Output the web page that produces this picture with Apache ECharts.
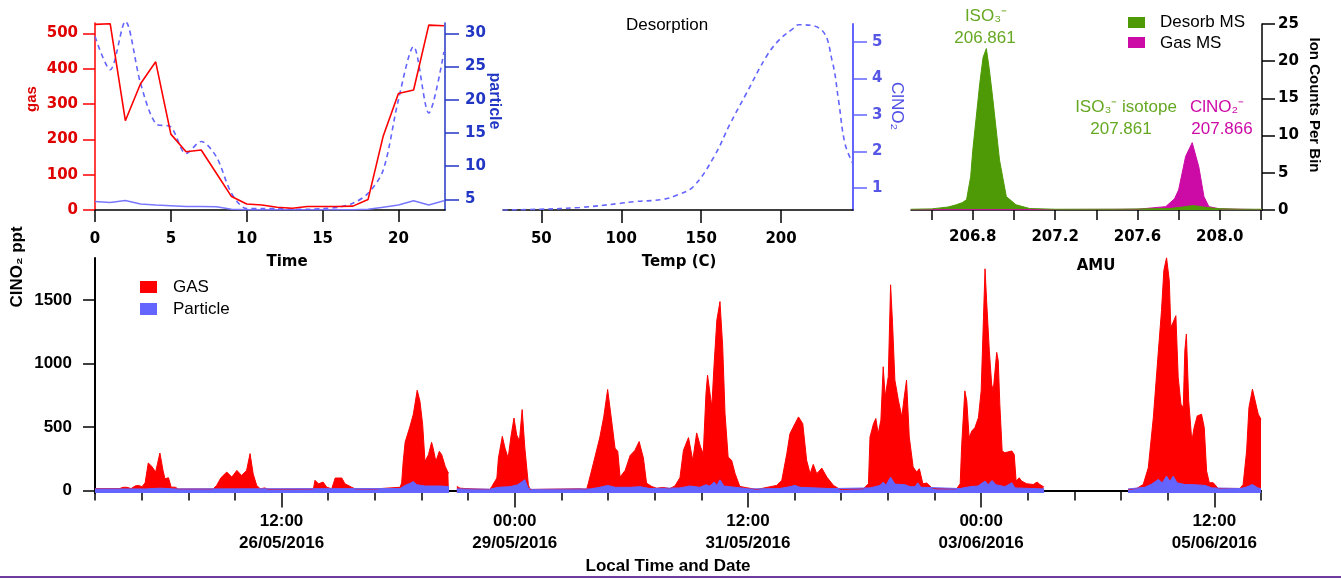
<!DOCTYPE html>
<html><head><meta charset="utf-8">
<script src="https://cdn.jsdelivr.net/npm/echarts@6/dist/echarts.min.js"></script>
<style>html,body{margin:0;padding:0;background:#fff}#c{width:1341px;height:579px}</style>
</head><body><div id="c"></div>
<script>
// ---------- Panel 1: diurnal cycle ----------
const diurnalHours = [0,1,2,3,4,5,6,7,8,9,10,11,12,13,14,15,16,17,18,19,20,21,22,23];
const diurnalGas = [526,528,253,358,420,215,165,170,104,38,17,14,8,5,10,10,10,11,30,210,330,340,524,522];
const diurnalParticleRight = [29.5,24.5,31.8,22.5,16.4,15.9,11.9,13.7,11.4,5.9,3.6,3.6,3.6,3.5,3.5,3.6,3.8,4.4,5.9,9.4,20,28,18,27.2];
const diurnalParticleLeft = [24,21,27,17,14,12,10,10,9,2,1,1,0.5,0.5,0.5,0.5,0.5,1,2,8,14,26,14,26];
const diurnalTicks = [0,5,10,15,20];
const particleTicks = [5,10,15,20,25,30];

// ---------- Panel 2: desorption ----------
const desorbTemp = [26,49,74,99,108,126,135,145,158,168,178,191,199,208,211,225,232,236,240,245];
const desorbClNO2 = [0.39,0.41,0.46,0.57,0.62,0.68,0.8,1.03,1.85,2.75,3.57,4.62,5.07,5.39,5.48,5.35,4.48,3.39,2.21,1.66];
const tempTicks = [50,100,150,200];
const clno2Ticks = [1,2,3,4,5];

// ---------- Panel 3: mass spectra ----------
const desorbAmu = [206.5,206.6,206.68,206.72,206.75,206.77,206.79,206.80,206.834,206.85,206.866,206.88,206.898,206.93,206.963,207.01,207.076,207.2,207.5,207.76,207.82,207.87,207.92,207.98,208.1,208.205];
const desorbCounts = [0.1,0.15,0.4,0.7,1.0,1.4,4.5,8,17,20.5,21.7,19,14.8,6.7,1.8,0.7,0.2,0.1,0.1,0.2,0.4,0.6,0.4,0.2,0.1,0.1];
const gasAmu = [206.5,207.0,207.6,207.737,207.78,207.80,207.834,207.866,207.898,207.923,207.947,208.0,208.205];
const gasCounts = [0.05,0.05,0.1,0.45,1.5,2.7,7.2,9.05,5.8,1.8,0.45,0.15,0.05];
const amuTicks = [206.6,206.8,207.0,207.2,207.4,207.6,207.8,208.0,208.2];
const amuLabels = [206.8,207.2,207.6,208.0];
const countTicks = [0,5,10,15,20,25];

// ---------- Bottom: time series (hours since 24/05/2016 12:00) ----------
const seriesStartUTC = [2016,4,24,12];
const gasHours = [
 0,6.4,7.2,8.2,9.3,10.3,11.1,12.1,12.9,13.7,
 14.6,15.6,16.7,17.5,18.0,18.9,19.6,20.6,21.4,30.4,
 31.3,32.4,33.9,35.2,36.5,37.7,39.0,39.9,40.7,41.6,
 42.5,43.7,44.5,56.2,56.6,57.5,58.7,59.6,60.9,61.8,
 63.5,64.3,66.0,66.9,72.0,75.9,78.5,78.9,79.3,79.8,
 81.0,81.9,82.9,83.6,84.3,84.9,85.8,86.6,87.0,87.7,
 88.6,89.2,90.1,90.9,91.1,92,93.1,93.9,96.5,97.0,
 101.6,102.1,103.4,103.8,104.8,105.5,106.3,107.0,107.8,108.5,
 109.2,109.9,110.6,111.5,111.9,124.8,126.5,126.9,128.2,129.9,
 130.9,131.9,132.9,133.8,134.5,135.1,136.4,137.7,138.9,140.0,
 141.1,141.9,143.2,144.5,146.2,147.9,149.2,150.5,151.4,152.7,
 153.8,154.8,155.8,156.5,157.2,157.6,158.1,158.7,159.3,160.0,
 160.8,161.5,162.1,162.9,163.8,164.7,165.9,167.7,170.3,175.4,
 176.7,178.0,178.8,180.1,181.0,182.1,183.1,184.0,184.8,185.7,
 187.0,188.3,190.0,191.7,197.7,199.0,199.4,200.3,200.9,201.5,
 202.2,202.8,203.3,204.1,204.7,205.2,205.8,206.7,207.6,208.1,
 208.8,209.5,210.5,211.4,212.1,213.0,214.0,215.3,216.6,221.7,
 222.6,223.0,223.8,224.3,224.9,225.6,226.4,227.3,228.0,228.6,
 229.0,229.4,230.1,230.7,231.1,232.0,232.4,232.8,233.4,234.1,
 235.9,236.5,237.0,237.8,238.4,239.7,241.4,242.4,243.1,244.0,
 244.2,245,265.8,268.0,269.7,271.0,272.3,273.6,274.4,275.0,
 275.7,276.4,276.8,277.4,278.1,278.7,279.4,280.0,280.4,280.8,
 281.4,282.2,282.8,283.6,284.7,285.4,286.0,286.7,287.7,289.0,
 294.6,295.4,296.3,296.9,297.8,298.7,299.3,300.0];
const gasPpt = [
 15,15,25,25,15,35,40,30,60,216,
 190,145,295,158,92,100,26,26,12,12,
 40,100,145,105,158,118,158,290,130,40,
 13,20,10,12,80,52,66,26,13,98,
 98,53,26,13,12,20,25,60,229,381,
 500,600,789,703,520,229,282,379,333,229,
 308,282,190,137,137,null,32,18,13,8,
 8,32,98,255,426,333,255,420,570,436,
 390,637,333,45,8,13,10,53,210,420,
 580,795,555,333,308,105,158,276,315,385,
 255,58,32,18,24,15,35,100,316,416,
 237,453,342,290,763,908,895,658,1000,1342,
 1487,1132,605,263,237,132,32,21,8,40,
 79,290,447,526,579,526,237,132,205,132,
 176,105,40,8,13,53,421,526,566,447,
 553,974,737,895,1619,1316,868,711,579,711,
 868,421,184,145,171,53,58,21,13,13,
 53,363,784,705,416,468,495,574,784,1363,
 1745,1495,1100,837,784,1087,1021,679,311,297,
 311,284,74,100,74,53,47,66,47,30,
 30,null,8,16,47,179,574,1100,1416,1732,
 1832,1653,1284,1324,1376,890,679,653,1100,1232,
 705,389,495,587,600,495,153,61,61,16,
 16,47,311,653,797,679,600,560];
const particleHours = [
 0,12.9,16.7,20.6,78.5,79.8,81.0,81.9,82.8,84.9,
 88.8,91.1,92,93.1,101.6,103.7,106.8,108.8,110.6,111.4,
 112.4,127.4,129.9,131.9,133.8,137.7,140.2,142.8,150.5,153.1,
 155.6,157.2,158.2,159.3,160.0,160.8,161.8,164.7,168.4,176.1,
 178.8,180.1,181.4,189.1,199.4,202.0,202.8,203.5,204.7,205.8,
 208.4,209.7,211.0,211.7,212.5,222.6,225.1,227.2,229.0,229.8,
 230.8,231.8,234.1,235.9,236.7,244.2,245,265.8,270.1,271.9,
 273.6,274.6,275.7,276.6,277.4,278.4,280.4,283.0,285.6,287.4,
 294.6,296.1,297.8,299.2,300];
const particlePpt = [
 12,12,18,12,15,40,55,70,45,35,
 35,30,null,12,10,25,30,45,85,20,
 8,12,25,40,25,25,30,15,20,35,
 25,45,35,66,40,84,35,25,12,15,
 30,40,25,15,20,40,66,40,105,50,
 45,30,30,60,25,15,30,35,74,45,
 79,45,30,60,20,12,null,12,25,50,
 87,60,113,70,113,60,47,45,40,20,
 15,25,47,20,15];
const timeTickHours = [0,12,24,36,48,60,72,84,96,108,120,132,144,156,168,180,192,204,216,228,240,252,264,276,288,300];
const timeLabelHours = [48,108,168,228,288];
const pptTicks = [0,500,1000,1500];

// ---------- build ----------
const pairs = (xs, ys) => xs.map((x, i) => [x, ys[i]]);
const t0 = Date.UTC(seriesStartUTC[0], seriesStartUTC[1], seriesStartUTC[2], seriesStartUTC[3]);
const p2 = n => String(n).padStart(2, '0');
function timeLabel(h) {
  const d = new Date(t0 + h * 3600e3);
  return p2(d.getUTCHours()) + ':' + p2(d.getUTCMinutes()) + '\n' + p2(d.getUTCDate()) + '/' + p2(d.getUTCMonth() + 1) + '/' + d.getUTCFullYear();
}
const plain = v => String(Math.round(v * 1000) / 1000);

const TOPF = {fontFamily: 'DejaVu Sans', fontWeight: 'bold', fontSize: 15};
const BOTF = {fontFamily: 'Liberation Sans', fontWeight: 'bold', fontSize: 17};
const RED = '#ff0000', PBLUE = '#6464ff', DBLUE = '#2236c4';
const GREEN = '#4e9a06', MAG = '#cc0aa6';
const noSplit = {show: false};
const T = (x, y, text, font, fill, extra) => Object.assign({type: 'text', x: x, y: y,
  style: {text: text, font: font, fill: fill, align: 'center', verticalAlign: 'middle', textAlign: 'center', textVerticalAlign: 'middle'}}, extra || {});
const TL = (x, y, text) => ({type: 'text', x: x, y: y,
  style: {text: text, font: '17px "Liberation Sans"', fill: '#000', align: 'left', verticalAlign: 'middle', textAlign: 'left', textVerticalAlign: 'middle'}});

const option = {
  animation: false,
  backgroundColor: '#fff',
  grid: [
    {left: 95, top: 23, width: 350, height: 187, outerBoundsMode: 'none'},
    {left: 503, top: 24, width: 350, height: 186, outerBoundsMode: 'none'},
    {left: 911, top: 24, width: 351, height: 186, outerBoundsMode: 'none'},
    {left: 95, top: 258, width: 1166, height: 235, outerBoundsMode: 'none'},
    {left: 95, top: 258, width: 1166, height: 235, outerBoundsMode: 'none'}
  ],
  xAxis: [
    {gridIndex: 0, type: 'value', min: 0, max: 23.07, splitLine: noSplit,
     axisLine: {lineStyle: {color: '#000', width: 1.5}},
     axisTick: {customValues: diurnalTicks, length: 12, lineStyle: {color: '#000', width: 1.5}},
     axisLabel: Object.assign({customValues: diurnalTicks, color: '#000', margin: 22, formatter: plain}, TOPF)},
    {gridIndex: 1, type: 'value', min: 26, max: 245, splitLine: noSplit,
     axisLine: {lineStyle: {color: '#000', width: 1.5}},
     axisTick: {customValues: tempTicks, length: 13, lineStyle: {color: '#000', width: 1.5}},
     axisLabel: Object.assign({customValues: tempTicks, color: '#000', margin: 22, formatter: plain}, TOPF)},
    {gridIndex: 2, type: 'value', min: 206.5, max: 208.205, splitLine: noSplit,
     axisLine: {lineStyle: {color: '#000', width: 1.5}},
     axisTick: {customValues: amuTicks, length: 10, lineStyle: {color: '#000', width: 1.5}},
     axisLabel: Object.assign({customValues: amuLabels, color: '#000', margin: 20, formatter: v => Number(v).toFixed(1)}, TOPF)},
    {gridIndex: 3, type: 'value', min: 0, max: 300, splitLine: noSplit,
     axisLine: {lineStyle: {color: '#000', width: 2}},
     axisTick: {customValues: timeTickHours, length: 10, lineStyle: {color: '#000', width: 1.5}},
     axisLabel: {show: false}},
    {gridIndex: 4, type: 'value', min: 0, max: 300, splitLine: noSplit,
     axisLine: {show: false},
     axisTick: {customValues: timeLabelHours, length: 17, lineStyle: {color: '#000', width: 1.5}},
     axisLabel: Object.assign({customValues: timeLabelHours, color: '#000', margin: 17, lineHeight: 22, formatter: v => timeLabel(v)}, BOTF)}
  ],
  yAxis: [
    {gridIndex: 0, type: 'value', position: 'left', min: 0, max: 530, interval: 100, splitLine: noSplit,
     axisLine: {show: true, lineStyle: {color: RED, width: 1.5}},
     axisTick: {show: true, length: 12, lineStyle: {color: RED, width: 1.5}},
     axisLabel: Object.assign({color: '#e00000', margin: 17, showMaxLabel: false, formatter: plain}, TOPF)},
    {gridIndex: 0, type: 'value', position: 'right', min: 3.39, max: 31.55, splitLine: noSplit,
     axisLine: {show: true, lineStyle: {color: DBLUE, width: 1.5}},
     axisTick: {show: true, customValues: particleTicks, length: 14, lineStyle: {color: DBLUE, width: 1.5}},
     axisLabel: Object.assign({customValues: particleTicks, color: DBLUE, margin: 20, formatter: plain}, TOPF)},
    {gridIndex: 1, type: 'value', position: 'right', min: 0.39, max: 5.5, splitLine: noSplit,
     axisLine: {show: true, lineStyle: {color: PBLUE, width: 2}},
     axisTick: {show: true, customValues: clno2Ticks, length: 14, lineStyle: {color: PBLUE, width: 1.5}},
     axisLabel: Object.assign({customValues: clno2Ticks, color: '#5656e6', margin: 19, formatter: plain}, TOPF)},
    {gridIndex: 2, type: 'value', position: 'right', min: 0, max: 25, splitLine: noSplit,
     axisLine: {show: true, lineStyle: {color: '#000', width: 1.5}},
     axisTick: {show: true, customValues: countTicks, length: 13, lineStyle: {color: '#000', width: 1.5}},
     axisLabel: Object.assign({customValues: countTicks, color: '#000', margin: 16, formatter: plain}, TOPF)},
    {gridIndex: 3, type: 'value', position: 'left', min: -20, max: 1830, splitLine: noSplit,
     axisLine: {show: true, lineStyle: {color: '#000', width: 2}},
     axisTick: {show: true, customValues: pptTicks, length: 12, lineStyle: {color: '#000', width: 1.5}},
     axisLabel: Object.assign({customValues: pptTicks, color: '#000', margin: 23, formatter: plain}, BOTF)},
    {gridIndex: 4, type: 'value', min: -20, max: 1830, show: false}
  ],
  series: [
    {type: 'line', xAxisIndex: 0, yAxisIndex: 0, data: pairs(diurnalHours, diurnalParticleLeft), symbol: 'none',
     lineStyle: {color: '#7878ff', width: 1.5}},
    {type: 'line', xAxisIndex: 0, yAxisIndex: 1, data: pairs(diurnalHours, diurnalParticleRight), symbol: 'none', smooth: 0.3,
     lineStyle: {color: PBLUE, width: 1.6, type: [5, 4]}},
    {type: 'line', xAxisIndex: 0, yAxisIndex: 0, data: pairs(diurnalHours, diurnalGas), symbol: 'none',
     lineStyle: {color: RED, width: 1.6}},
    {type: 'line', xAxisIndex: 1, yAxisIndex: 2, data: pairs(desorbTemp, desorbClNO2), symbol: 'none', smooth: 0.4,
     lineStyle: {color: PBLUE, width: 1.6, type: [5, 4]}},
    {type: 'line', xAxisIndex: 2, yAxisIndex: 3, data: pairs(gasAmu, gasCounts), symbol: 'none',
     lineStyle: {color: MAG, width: 1}, areaStyle: {color: MAG, opacity: 1, origin: 'start'}},
    {type: 'line', xAxisIndex: 2, yAxisIndex: 3, data: pairs(desorbAmu, desorbCounts), symbol: 'none',
     lineStyle: {color: GREEN, width: 1}, areaStyle: {color: GREEN, opacity: 1, origin: 'start'}},
    {type: 'line', xAxisIndex: 3, yAxisIndex: 4, data: pairs(gasHours, gasPpt), symbol: 'none', connectNulls: false,
     lineStyle: {color: RED, width: 1}, areaStyle: {color: RED, opacity: 1, origin: 'start'}},
    {type: 'line', xAxisIndex: 3, yAxisIndex: 4, data: pairs(particleHours, particlePpt), symbol: 'none', connectNulls: false,
     lineStyle: {color: PBLUE, width: 1}, areaStyle: {color: PBLUE, opacity: 1, origin: 'start'}}
  ],
  graphic: [
    T(667, 25, 'Desorption', '17px "Liberation Sans"', '#000'),
    T(287, 262, 'Time', 'bold 15px "DejaVu Sans"', '#000'),
    T(679, 262, 'Temp (C)', 'bold 15px "DejaVu Sans"', '#000'),
    T(1096, 266, 'AMU', 'bold 15px "DejaVu Sans"', '#000'),
    T(668, 566, 'Local Time and Date', 'bold 17px "Liberation Sans"', '#000'),
    T(32, 99, 'gas', 'bold 15px "Liberation Sans"', '#dd0000', {rotation: Math.PI / 2}),
    T(494, 101, 'particle', 'bold 16px "Liberation Sans"', DBLUE, {rotation: -Math.PI / 2}),
    T(897, 106, 'ClNO₂', '17px "Liberation Sans"', '#4f4fe6', {rotation: -Math.PI / 2}),
    T(1314, 105, 'Ion Counts Per Bin', 'bold 15px "Liberation Sans"', '#000', {rotation: -Math.PI / 2}),
    T(17, 267, 'ClNO₂ ppt', 'bold 17px "Liberation Sans"', '#000', {rotation: Math.PI / 2}),
    T(986, 16, 'ISO₃⁻', '17px "Liberation Sans"', '#66a822'),
    T(985, 38, '206.861', '17px "Liberation Sans"', '#66a822'),
    T(1126, 107, 'ISO₃⁻ isotope', '17px "Liberation Sans"', '#66a822'),
    T(1121, 129, '207.861', '17px "Liberation Sans"', '#66a822'),
    T(1217, 107, 'ClNO₂⁻', '17px "Liberation Sans"', MAG),
    T(1222, 129, '207.866', '17px "Liberation Sans"', MAG),
    {type: 'rect', shape: {x: 1128, y: 17, width: 17, height: 11}, style: {fill: GREEN}},
    TL(1160, 22, 'Desorb MS'),
    {type: 'rect', shape: {x: 1128, y: 37, width: 17, height: 11}, style: {fill: MAG}},
    TL(1160, 43, 'Gas MS'),
    {type: 'rect', shape: {x: 140, y: 281, width: 17, height: 12}, style: {fill: RED}},
    TL(173, 287, 'GAS'),
    {type: 'rect', shape: {x: 140, y: 303, width: 17, height: 12}, style: {fill: PBLUE}},
    TL(173, 309, 'Particle'),
    {type: 'rect', shape: {x: 0, y: 576, width: 1341, height: 2}, style: {fill: '#6f3b9c'}}
  ]
};

const chart = echarts.init(document.getElementById('c'), null, {renderer: 'canvas', width: 1341, height: 579});
chart.setOption(option);
</script>
</body></html>
